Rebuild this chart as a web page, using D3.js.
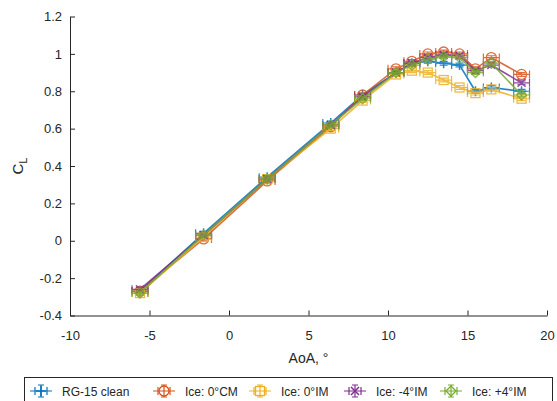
<!DOCTYPE html>
<html>
<head>
<meta charset="utf-8">
<script src="https://cdn.jsdelivr.net/npm/d3@7"></script>
<style>
  html, body { margin: 0; padding: 0; background: #fff; }
  svg { display: block; font-family: "Liberation Sans", Arial, sans-serif; }
</style>
</head>
<body>
<svg id="chart" width="557" height="401"></svg>
<script>
// Angle of attack (deg) shared by every run
const aoa = [-5.6, -1.6, 2.4, 6.4, 8.4, 10.5, 11.5, 12.5, 13.5, 14.5, 15.5, 16.5, 18.4];

// Lift coefficient per configuration
const clClean = [-0.27, 0.04, 0.34, 0.63, 0.78, 0.90, 0.95, 0.96, 0.95, 0.94, 0.80, 0.82, 0.80];
const clIce0CM = [-0.27, 0.01, 0.32, 0.61, 0.78, 0.92, 0.96, 1.00, 1.01, 1.00, 0.92, 0.98, 0.89];
const clIce0IM = [-0.28, 0.02, 0.33, 0.60, 0.75, 0.89, 0.91, 0.90, 0.86, 0.82, 0.79, 0.81, 0.76];
const clIceM4IM = [-0.26, 0.03, 0.33, 0.62, 0.77, 0.90, 0.95, 0.98, 0.995, 0.99, 0.91, 0.94, 0.845];
const clIceP4IM = [-0.28, 0.03, 0.33, 0.62, 0.76, 0.90, 0.94, 0.97, 0.985, 0.98, 0.90, 0.95, 0.78];

// Measurement uncertainty
const aoaErr = 0.5;
const clErr = 0.01;

const seriesNames = ["RG-15 clean", "Ice: 0°CM", "Ice: 0°IM", "Ice: -4°IM", "Ice: +4°IM"];
const xTicks = [-10, -5, 0, 5, 10, 15, 20];
const yTicks = [-0.4, -0.2, 0, 0.2, 0.4, 0.6, 0.8, 1, 1.2];

const colors = ["#0072BD", "#D95319", "#EDB120", "#7E2F8E", "#77AC30"];
const markers = ["plus", "circle", "square", "x", "diamond"];
const series = [clClean, clIce0CM, clIce0IM, clIceM4IM, clIceP4IM].map((cl, i) => ({
  name: seriesNames[i], color: colors[i], marker: markers[i],
  points: aoa.map((a, j) => ({ x: a, y: cl[j] }))
}));

const svg = d3.select("#chart");
const x = d3.scaleLinear().domain([-10, 20]).range([70, 547]);
const y = d3.scaleLinear().domain([-0.4, 1.2]).range([315.5, 16.5]);
const axisColor = "#262626";

// Plain hyphen-minus tick labels
const fmt = d => String(+(+d).toFixed(1));

// Axes (inward ticks, left and bottom only)
const gx = svg.append("g").attr("transform", `translate(0,${y(-0.4)})`)
  .call(d3.axisBottom(x).tickValues(xTicks).tickSizeInner(-5).tickSizeOuter(0).tickPadding(15).tickFormat(fmt));
const gy = svg.append("g").attr("transform", `translate(${x(-10)},0)`)
  .call(d3.axisLeft(y).tickValues(yTicks).tickSizeInner(-5).tickSizeOuter(0).tickPadding(8).tickFormat(fmt));
[gx, gy].forEach(g => {
  g.select(".domain").attr("stroke", axisColor).attr("stroke-width", 1);
  g.selectAll(".tick line").attr("stroke", axisColor);
  g.selectAll(".tick text").attr("fill", axisColor).style("font-size", "13px").style("font-family", "Liberation Sans, Arial, sans-serif");
});

// Axis titles
svg.append("text").attr("x", (x(-10) + x(20)) / 2).attr("y", 363)
  .attr("text-anchor", "middle").attr("fill", axisColor).style("font-size", "14px").text("AoA, °");
const yl = svg.append("text").attr("transform", `translate(23,${(y(-0.4) + y(1.2)) / 2}) rotate(-90)`)
  .attr("text-anchor", "middle").attr("fill", axisColor).style("font-size", "15px");
yl.append("tspan").text("C");
yl.append("tspan").attr("dy", 4).style("font-size", "11px").text("L");

// Marker drawing
function drawMarker(g, type, cx, cy, color) {
  const s = 5;
  if (type === "circle") {
    g.append("circle").attr("cx", cx).attr("cy", cy).attr("r", s).attr("fill", "none").attr("stroke", color).attr("stroke-width", 1.3);
  } else if (type === "square") {
    g.append("rect").attr("x", cx - s + 0.5).attr("y", cy - s + 0.5).attr("width", 2 * s - 1).attr("height", 2 * s - 1).attr("fill", "none").attr("stroke", color).attr("stroke-width", 1.3);
  } else if (type === "plus") {
    g.append("path").attr("d", `M${cx - s},${cy}H${cx + s}M${cx},${cy - s}V${cy + s}`).attr("stroke", color).attr("stroke-width", 1.5);
  } else if (type === "x") {
    const t = s * 0.8;
    g.append("path").attr("d", `M${cx - t},${cy - t}L${cx + t},${cy + t}M${cx - t},${cy + t}L${cx + t},${cy - t}`).attr("stroke", color).attr("stroke-width", 1.5);
  } else if (type === "diamond") {
    g.append("path").attr("d", `M${cx},${cy - s}L${cx + s},${cy}L${cx},${cy + s}L${cx - s},${cy}Z`).attr("fill", "none").attr("stroke", color).attr("stroke-width", 1.3);
  }
}

const cap = 4;
const line = d3.line().x(d => x(d.x)).y(d => y(d.y));
series.forEach(s => {
  const g = svg.append("g").attr("opacity", 0.85);
  g.append("path").datum(s.points).attr("d", line).attr("fill", "none").attr("stroke", s.color).attr("stroke-width", 1.6);
  s.points.forEach(p => {
    const px = x(p.x), py = y(p.y);
    const x0 = x(p.x - aoaErr), x1 = x(p.x + aoaErr);
    const y0 = y(p.y - clErr), y1 = y(p.y + clErr);
    g.append("path").attr("fill", "none").attr("stroke", s.color).attr("stroke-width", 1.2)
      .attr("d", `M${x0},${py}H${x1}M${x0},${py - cap}V${py + cap}M${x1},${py - cap}V${py + cap}` +
                 `M${px},${y0}V${y1}M${px - cap},${y0}H${px + cap}M${px - cap},${y1}H${px + cap}`);
    drawMarker(g, s.marker, px, py, s.color);
  });
});

// Legend
const legend = svg.append("g");
legend.append("rect").attr("x", 24.5).attr("y", 377.5).attr("width", 528).attr("height", 30)
  .attr("fill", "#fff").attr("stroke", axisColor).attr("stroke-width", 1);
const legendX = [30, 153, 249, 344, 440];
const ly = 391;
series.forEach((s, i) => {
  const g = legend.append("g");
  const x0 = legendX[i], x1 = x0 + 22, xm = x0 + 11;
  g.append("path").attr("fill", "none").attr("stroke", s.color).attr("stroke-width", 1.2)
    .attr("d", `M${x0},${ly}H${x1}M${xm - 6},${ly}H${xm + 6}M${xm - 6},${ly - cap}V${ly + cap}M${xm + 6},${ly - cap}V${ly + cap}` +
               `M${xm},${ly - 6}V${ly + 6}M${xm - 3},${ly - 6}H${xm + 3}M${xm - 3},${ly + 6}H${xm + 3}`);
  drawMarker(g, s.marker, xm, ly, s.color);
  g.append("text").attr("x", x1 + 10).attr("y", ly + 4.5).attr("fill", axisColor)
    .style("font-size", "12px").text(s.name);
});
</script>
</body>
</html>
